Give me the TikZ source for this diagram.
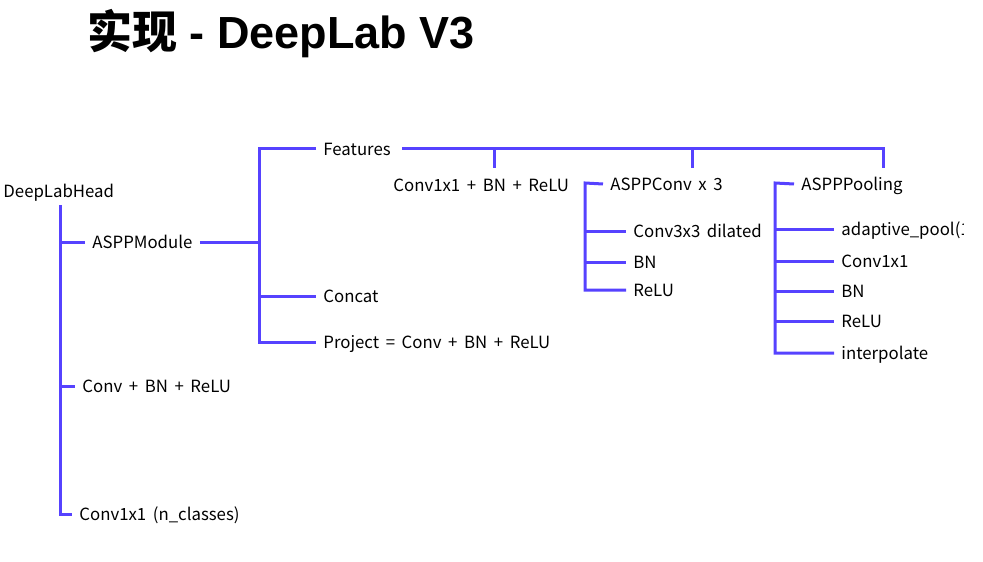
\documentclass[tikz,border=0pt]{standalone}
\usepackage{fontspec}
\setmainfont{Noto Sans CJK SC}[WordSpace=1.75]
\newfontfamily\titlefont{Liberation Sans}
\newfontfamily\cjk{Noto Sans CJK SC}
\usepackage{tikz}
\usetikzlibrary{positioning, calc}

\definecolor{treeblue}{RGB}{86,66,255}

\tikzset{
    tree/.style={line width=1.5pt, treeblue},
    lbl/.style={anchor=west, inner xsep=3.5pt, inner ysep=0pt, font=\fontsize{8.4}{10}\selectfont,
        text height=1.5ex, text depth=.3ex}
}

\begin{document}
\begin{tikzpicture}[x=0.5pt, y=-0.5pt]
    \useasboundingbox (0,0) rectangle (983,561);

    % Title
    \node[anchor=west, inner sep=0pt] (title) at (87,34)
        {\fontsize{22.5}{27}\selectfont\bfseries{\cjk 实现}{\titlefont\ - DeepLab V3}};

    % Head
    \node[lbl, inner xsep=0pt] (head) at (3,191) {DeepLabHead};
    \coordinate (headfoot) at (60,205);
    \node[lbl] (aspp) at (85,242) {ASPPModule};
    \node[lbl] (cbr) at (75,386) {Conv + BN + ReLU};
    \node[lbl] (cls) at (72,514) {Conv1x1 (n\_classes)};

    \draw[tree] (headfoot) |- (cls.west);
    \draw[tree] (headfoot |- aspp.west) -- (aspp.west);
    \draw[tree] (headfoot |- cbr.west) -- (cbr.west);

    % ASPP module
    \coordinate (hub) at (259,242);
    \node[lbl] (feat) at (316,149) {Features};
    \node[lbl] (concat) at (316,296) {Concat};
    \node[lbl] (proj) at (316,342) {Project = Conv + BN + ReLU};

    \draw[tree] (aspp.east) -- (hub);
    \draw[tree] (feat.west) -| (hub) |- (proj.west);
    \draw[tree] (hub |- concat.west) -- (concat.west);

    % Features branches
    \coordinate (c1top) at (494,168);
    \coordinate (convtop) at (692,168);
    \coordinate (pooltop) at (883,168);
    \node[lbl, inner xsep=0pt] (c1) at (393,185) {Conv1x1 + BN + ReLU};

    \draw[tree] ([xshift=2pt]feat.east) -| (pooltop);
    \draw[tree] (feat.east -| c1top) -- (c1top);
    \draw[tree] (feat.east -| convtop) -- (convtop);

    % ASPPConv
    \coordinate (convrail) at (585,183);
    \node[lbl] (conv) at (603,184) {ASPPConv x 3};
    \node[lbl] (dil) at (626,231) {Conv3x3 dilated};
    \node[lbl] (bn1) at (626,262) {BN};
    \node[lbl] (relu1) at (626,290) {ReLU};

    \draw[tree] (conv.west) -- (convrail) |- (relu1.west);
    \foreach \n in {dil, bn1}
        \draw[tree] (convrail |- \n.west) -- (\n.west);

    % ASPPPooling
    \coordinate (poolrail) at (775,183);
    \node[lbl] (pool) at (794,184) {ASPPPooling};
    \begin{scope}
        \clip (800,200) rectangle (963,245);
        \node[lbl] (adapt) at (834,229) {adaptive\_pool(1};
    \end{scope}
    \node[lbl] (c2) at (834,261) {Conv1x1};
    \node[lbl] (bn2) at (834,291) {BN};
    \node[lbl] (relu2) at (834,321) {ReLU};
    \node[lbl] (interp) at (834,353) {interpolate};

    \draw[tree] (pool.west) -- (poolrail) |- (interp.west);
    \foreach \n in {adapt, c2, bn2, relu2}
        \draw[tree] (poolrail |- \n.west) -- (\n.west);
\end{tikzpicture}
\end{document}
